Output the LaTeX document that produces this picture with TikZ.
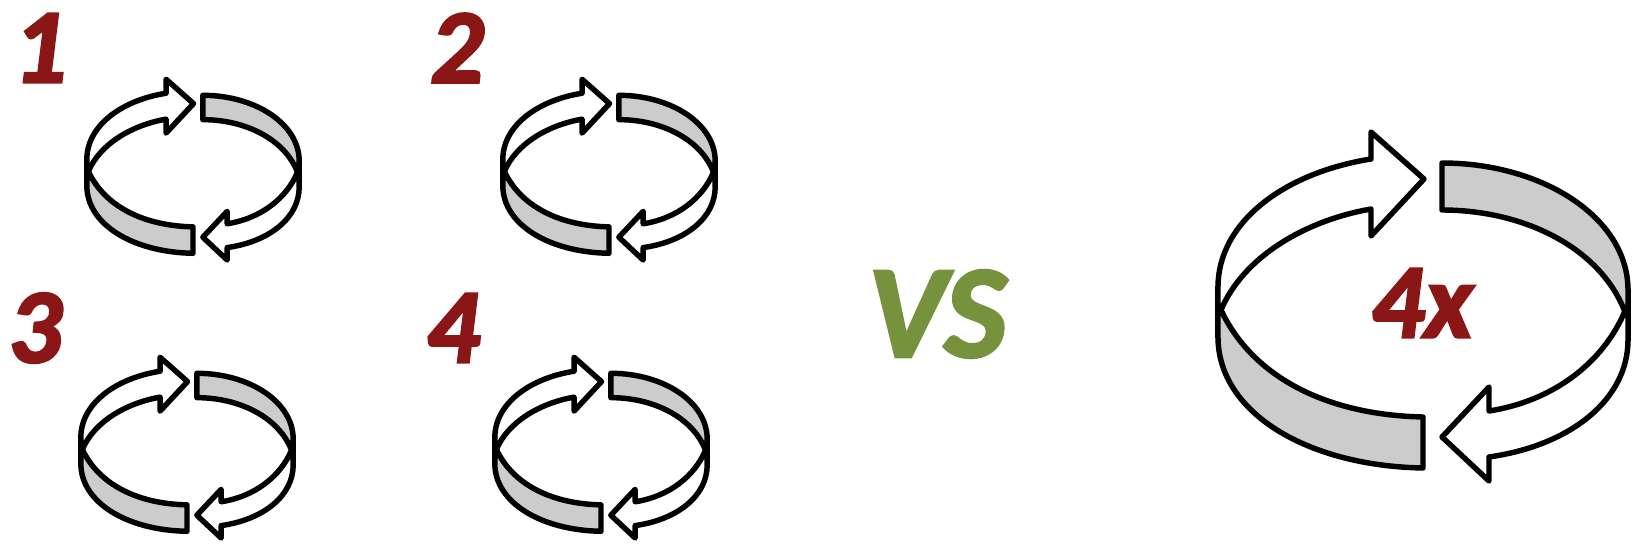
\documentclass[tikz,border=0pt]{standalone}
\usepackage{fontspec}
\setmainfont{Carlito}[BoldItalicFeatures={FakeBold=2.5}]
\usepackage{xcolor}
\definecolor{numred}{HTML}{8B1616}
\definecolor{vsgreen}{HTML}{76923C}
\tikzset{
  ringline/.style={draw=black, line width=1.55pt, line join=round, line cap=round},
  numlabel/.style={font=\fontsize{30}{30}\selectfont\bfseries\itshape, color=numred, inner sep=0pt},
  ringicon/.pic={
    % side walls first, the bands sit on top
    \draw[ringline] (-205,-26) -- (-205,24);
    \draw[ringline] (205,-23) -- (205,27);
    % grey bands
    \draw[ringline, fill=black!20] (19,-150) .. controls (120,-150) and (205,-95) .. (205,-23) -- (205,-1) -- (202,-1)
      .. controls (177,-66) and (100,-103) .. (19,-103) -- cycle;
    \draw[ringline, fill=black!20] (0,104) .. controls (-95,102) and (-170,65) .. (-202,-3) -- (-205,-3) -- (-205,24)
      .. controls (-205,100) and (-115,153) .. (0,155) -- cycle;
    % white arrows
    \draw[ringline, fill=white] (-52,-154) -- (-52,-181) -- (1,-134) -- (-52,-77) -- (-52,-104)
      .. controls (-120,-92) and (-180,-55) .. (-202,-3) -- (-205,-3) -- (-205,-26)
      .. controls (-205,-90) and (-140,-140) .. (-52,-154) -- cycle;
    \draw[ringline, fill=white] (66,98) -- (66,74) -- (19,124) -- (66,168) -- (66,144)
      .. controls (150,132) and (205,85) .. (205,27) -- (205,-2) -- (202,-2)
      .. controls (180,50) and (130,88) .. (66,98) -- cycle;
  }
}
\begin{document}
\begin{tikzpicture}[x=0.1mm, y=-0.1mm]
  \useasboundingbox (0,0) rectangle (1640,548);
  % four small rings
  \pic[scale=.518] at (193,173) {ringicon};
  \pic[scale=.518] at (609,173) {ringicon};
  \pic[scale=.518] at (187,451) {ringicon};
  \pic[scale=.518] at (601,451) {ringicon};
  % the large ring
  \pic at (1423,313) {ringicon};
  \node[numlabel] (numone) at (40,48) {1};
  \node[numlabel] (numtwo) at (457,48) {2};
  \node[numlabel] (numthree) at (35,328) {3};
  \node[numlabel] (numfour) at (453,328) {4};
  \node[numlabel] (fourx) at (1422,303) {4x};
  \node[numlabel, font=\fontsize{37.5}{37.5}\selectfont\bfseries\itshape, color=vsgreen] (versus) at (937,314) {VS};
\end{tikzpicture}
\end{document}
